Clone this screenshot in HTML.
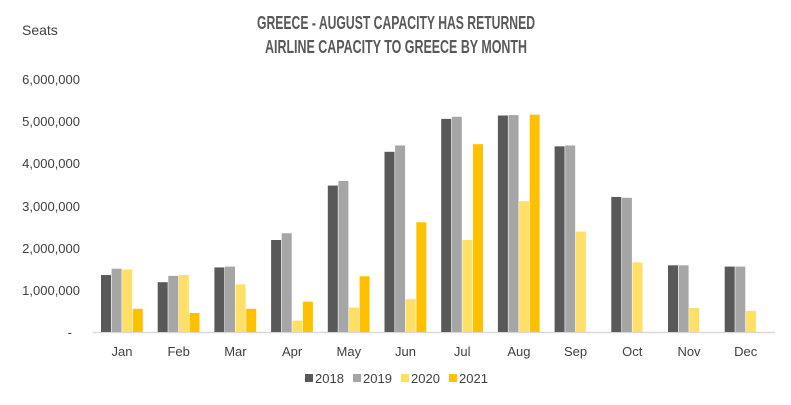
<!DOCTYPE html>
<html><head><meta charset="utf-8"><style>
body{margin:0;background:#fff}
svg text{font-family:"Liberation Sans",sans-serif}
</style></head><body>
<svg width="791" height="400" viewBox="0 0 791 400" xmlns="http://www.w3.org/2000/svg">
<text x="22" y="35" font-size="14" fill="#404040">Seats</text>
<g font-family="Liberation Sans Narrow,Liberation Sans,sans-serif" font-size="18" font-weight="bold" fill="#595959" text-anchor="middle" style="font-stretch:condensed">
<text x="396" y="29" textLength="278" lengthAdjust="spacingAndGlyphs">GREECE - AUGUST CAPACITY HAS RETURNED</text>
<text x="396" y="53" textLength="262" lengthAdjust="spacingAndGlyphs">AIRLINE CAPACITY TO GREECE BY MONTH</text>
</g>
<g font-size="13" fill="#404040" text-anchor="end">
<text x="80" y="84">6,000,000</text>
<text x="80" y="126">5,000,000</text>
<text x="80" y="168">4,000,000</text>
<text x="80" y="211">3,000,000</text>
<text x="80" y="253">2,000,000</text>
<text x="80" y="295">1,000,000</text>
<text x="72" y="337">-</text>
</g>
<line x1="93" y1="332.5" x2="775" y2="332.5" stroke="#d9d9d9" stroke-width="1.5"/>
<g id="bars"></g>
<g font-size="13" fill="#404040" text-anchor="middle" id="cats"></g>
<g font-size="13" fill="#404040">
<rect x="305" y="374" width="8" height="8" fill="#595959"/><text x="315" y="383">2018</text>
<rect x="353" y="374" width="8" height="8" fill="#a6a6a6"/><text x="363" y="383">2019</text>
<rect x="401" y="374" width="8" height="8" fill="#ffe066"/><text x="411" y="383">2020</text>
<rect x="449" y="374" width="8" height="8" fill="#ffc000"/><text x="459" y="383">2021</text>
</g>
<script>
var d=[[1.35,1.5,1.48,0.55],[1.18,1.33,1.35,0.45],[1.53,1.55,1.13,0.55],[2.18,2.34,0.27,0.72],[3.47,3.58,0.58,1.32],[4.27,4.42,0.78,2.6],[5.05,5.1,2.18,4.45],[5.13,5.14,3.1,5.15],[4.4,4.42,2.38,0],[3.2,3.18,1.65,0],[1.58,1.58,0.57,0],[1.55,1.55,0.5,0]];
var m=["Jan","Feb","Mar","Apr","May","Jun","Jul","Aug","Sep","Oct","Nov","Dec"];
var c=["#595959","#a6a6a6","#ffe066","#ffc000"];
var ns="http://www.w3.org/2000/svg",b=document.getElementById("bars"),t=document.getElementById("cats");
for(var i=0;i<12;i++){var cx=122+i*56.7;
for(var j=0;j<4;j++){var v=d[i][j];if(!v)continue;var h=v*42.2;var r=document.createElementNS(ns,"rect");
r.setAttribute("x",cx-21+j*10.6);r.setAttribute("y",332-h);r.setAttribute("width",10);r.setAttribute("height",h);r.setAttribute("fill",c[j]);b.appendChild(r);}
var tx=document.createElementNS(ns,"text");tx.setAttribute("x",cx);tx.setAttribute("y",356);tx.textContent=m[i];t.appendChild(tx);}
</script>
</svg>
</body></html>
